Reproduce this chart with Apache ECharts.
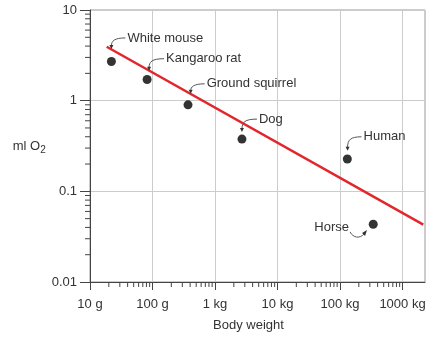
<!DOCTYPE html>
<html>
<head>
<meta charset="utf-8">
<script src="https://cdn.jsdelivr.net/npm/echarts@6/dist/echarts.min.js"></script>
<style>
  html, body { margin: 0; padding: 0; background: #fff; }
  #chart { width: 433px; height: 337px; }
</style>
</head>
<body>
<div id="chart"></div>
<script>
// data
const animals = ['White mouse', 'Kangaroo rat', 'Ground squirrel', 'Dog', 'Human', 'Horse'];
const weightG = [22, 82, 370, 2700, 131000, 340000];
const o2 = [2.7, 1.71, 0.9, 0.377, 0.227, 0.0434];
// where each label's arrow points
const pointerX = [22, 88, 408, 2700, 132000, 261000];
const pointerY = [3.72, 2.14, 1.19, 0.45, 0.28, 0.0366];
// regression line ends
const lineX = [18.5, 2.15e6];
const lineY = [3.93, 0.043];

const xTickValues = [10, 100, 1000, 10000, 100000, 1000000];
const xTickLabels = ['10 g', '100 g', '1 kg', '10 kg', '100 kg', '1000 kg'];
const yTickValues = [0.01, 0.1, 1, 10];
const yTickLabels = ['0.01', '0.1', '1', '10'];
const minorSteps = [2, 3, 4, 5, 6, 7, 8, 9];

const X_MIN = 10, X_MAX = 2.29e6, Y_MIN = 0.01, Y_MAX = 10;
const FONT = 'Liberation Sans, Arial, sans-serif';

// label placement relative to the arrow tip (px)
const labelPlace = {
    'White mouse': { dx: 16, dy: -11, side: 'right' },
    'Kangaroo rat': { dx: 17, dy: -12, side: 'right' },
    'Ground squirrel': { dx: 16, dy: -10, side: 'right' },
    'Dog': { dx: 17, dy: -13, side: 'right' },
    'Human': { dx: 16, dy: -14, side: 'right' },
    'Horse': { dx: -17, dy: -3, side: 'left' }
};

const findLabel = (values, labels, v) => {
    for (let i = 0; i < values.length; i++) {
        if (Math.abs(Math.log10(v) - Math.log10(values[i])) < 1e-6) return labels[i];
    }
    return '';
};

// minor tick positions (2..9 in each decade)
const minorTicks = [];
[10, 100, 1000, 10000, 100000].forEach((d) => {
    minorSteps.forEach((m) => minorTicks.push([d * m, 0]));
});
[0.01, 0.1, 1].forEach((d) => {
    minorSteps.forEach((m) => minorTicks.push([d * m, 1]));
});

const chart = echarts.init(document.getElementById('chart'), null, { renderer: 'canvas' });

chart.setOption({
    animation: false,
    textStyle: { fontFamily: FONT },
    grid: {
        left: 90, right: 8, top: 10, bottom: 55,
        show: true, borderColor: '#999', borderWidth: 1
    },
    xAxis: {
        type: 'log',
        logBase: 10,
        min: X_MIN,
        max: X_MAX,
        name: 'Body weight',
        nameLocation: 'middle',
        nameGap: 37,
        nameTextStyle: { fontSize: 13, color: '#333', fontFamily: FONT, padding: [0, 18, 0, 0] },
        axisLine: { show: true, lineStyle: { color: '#444', width: 1 } },
        axisTick: { show: true, length: 8, customValues: xTickValues, lineStyle: { color: '#444' } },
        axisLabel: {
            customValues: xTickValues,
            margin: 16,
            fontSize: 13,
            color: '#333',
            formatter: (v) => findLabel(xTickValues, xTickLabels, v)
        },
        splitLine: { show: true, lineStyle: { color: '#ccc', width: 1 } },
        minorTick: { show: false }
    },
    yAxis: {
        type: 'log',
        logBase: 10,
        min: Y_MIN,
        max: Y_MAX,
        name: '{a|ml O}{b|2}',
        nameLocation: 'middle',
        nameRotate: 0,
        nameGap: 42,
        nameTextStyle: {
            color: '#333',
            rich: {
                a: { fontSize: 13, color: '#333', fontFamily: FONT },
                b: { fontSize: 10, color: '#333', fontFamily: FONT, padding: [8, 0, 0, 0] }
            }
        },
        axisLine: { show: true, lineStyle: { color: '#444', width: 1 } },
        axisTick: { show: true, length: 10, lineStyle: { color: '#444' } },
        axisLabel: {
            margin: 13,
            fontSize: 13,
            color: '#333',
            formatter: (v) => findLabel(yTickValues, yTickLabels, v)
        },
        splitLine: { show: true, lineStyle: { color: '#ccc', width: 1 } }
    },
    series: [
        {
            // minor ticks on both axes
            type: 'custom',
            clip: false,
            silent: true,
            z: 3,
            data: minorTicks,
            renderItem: (params, api) => {
                const v = api.value(0);
                if (api.value(1) === 0) {
                    const p = api.coord([v, Y_MIN]);
                    return {
                        type: 'line',
                        shape: { x1: p[0], y1: p[1], x2: p[0], y2: p[1] + 5 },
                        style: { stroke: '#444', lineWidth: 1 }
                    };
                }
                const p = api.coord([X_MIN, v]);
                return {
                    type: 'line',
                    shape: { x1: p[0], y1: p[1], x2: p[0] - 5, y2: p[1] },
                    style: { stroke: '#444', lineWidth: 1 }
                };
            }
        },
        {
            type: 'line',
            data: lineX.map((x, i) => [x, lineY[i]]),
            showSymbol: false,
            lineStyle: { color: '#e3262b', width: 2.5 },
            z: 4
        },
        {
            type: 'scatter',
            data: weightG.map((x, i) => [x, o2[i]]),
            symbol: 'circle',
            symbolSize: 9,
            itemStyle: { color: '#000' },
            z: 5
        },
        {
            // labels with curved arrows
            type: 'custom',
            clip: false,
            silent: true,
            z: 6,
            data: pointerX.map((x, i) => [x, pointerY[i], i]),
            renderItem: (params, api) => {
                const name = animals[api.value(2)];
                const place = labelPlace[name];
                const tip = api.coord([api.value(0), api.value(1)]);
                const tx = tip[0] + place.dx;
                const ty = tip[1] + place.dy;
                const children = [];
                let path, arrow;
                if (place.side === 'right') {
                    path = 'M' + (tx - 2) + ' ' + ty +
                        ' C' + (tip[0] + 3) + ' ' + ty + ' ' + tip[0] + ' ' + (ty + 3) + ' ' + tip[0] + ' ' + (tip[1] - 3);
                    arrow = [[tip[0] - 2, tip[1] - 4], [tip[0] + 2, tip[1] - 4], [tip[0], tip[1]]];
                } else {
                    const sx = tx + 1, sy = ty + 4;
                    path = 'M' + sx + ' ' + sy +
                        ' C' + (sx + 3) + ' ' + (sy + 6) + ' ' + (tip[0] - 6) + ' ' + (sy + 7) + ' ' + (tip[0] - 2) + ' ' + (tip[1] + 3);
                    arrow = [[tip[0] - 4, tip[1] + 2], [tip[0] - 1, tip[1] + 5], [tip[0] + 1, tip[1] - 1]];
                }
                children.push({
                    type: 'path',
                    shape: { pathData: path },
                    style: { stroke: '#555', lineWidth: 1, fill: null }
                });
                children.push({
                    type: 'polygon',
                    shape: { points: arrow },
                    style: { fill: '#333' }
                });
                children.push({
                    type: 'text',
                    style: {
                        x: tx, y: ty,
                        text: name,
                        fontSize: 13,
                        fontFamily: FONT,
                        fill: '#333',
                        align: place.side === 'right' ? 'left' : 'right',
                        verticalAlign: 'middle'
                    }
                });
                return { type: 'group', children: children };
            }
        }
    ]
});
</script>
</body>
</html>
